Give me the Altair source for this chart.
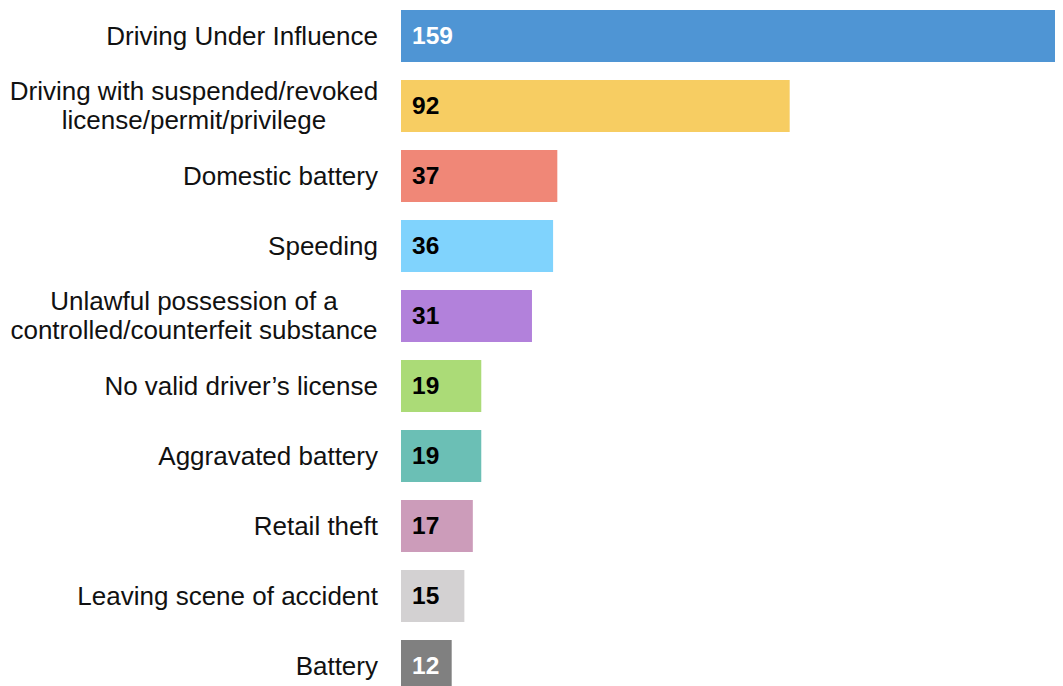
import altair as alt
import pandas as pd

categories = [
    "Driving Under Influence",
    "Driving with suspended/revoked|license/permit/privilege",
    "Domestic battery",
    "Speeding",
    "Unlawful possession of a|controlled/counterfeit substance",
    "No valid driver’s license",
    "Aggravated battery",
    "Retail theft",
    "Leaving scene of accident",
    "Battery",
]
values = [159, 92, 37, 36, 31, 19, 19, 17, 15, 12]
bar_colors = ["#4f95d4", "#f7cd62", "#f08777", "#80d3fd", "#b281db",
              "#abdb77", "#6bbfb5", "#cc9cba", "#d3d1d2", "#808080"]
value_text_colors = ["#ffffff", "#000000", "#000000", "#000000", "#000000",
                     "#000000", "#000000", "#000000", "#000000", "#ffffff"]

df = pd.DataFrame({
    "category": categories,
    "value": values,
    "color": bar_colors,
    "tcolor": value_text_colors,
})

FONT = "Liberation Sans"

y_enc = alt.Y(
    "category:N",
    sort=categories,
    axis=None,
    scale=alt.Scale(range=[-7, 693], paddingInner=18 / 70, paddingOuter=9 / 70),
)
x_scale = alt.Scale(domain=[0, 154.8], nice=False, zero=True)

base = alt.Chart(df)

bars = base.mark_bar().encode(
    x=alt.X("value:Q", scale=x_scale, axis=None),
    y=y_enc,
    color=alt.Color("color:N", scale=None),
)

value_text = base.mark_text(
    align="left", baseline="middle", dx=11, dy=1, font=FONT, fontSize=24.5,
    fontWeight="bold"
).encode(
    x=alt.datum(0, scale=x_scale),
    y=y_enc,
    text=alt.Text("value:Q"),
    color=alt.Color("tcolor:N", scale=None),
)

single_labels = base.transform_filter(
    "indexof(datum.category, '|') < 0"
).mark_text(
    align="right", baseline="middle", dy=1, font=FONT, fontSize=26, color="#111111"
).encode(
    x=alt.value(-23),
    y=y_enc,
    text="category:N",
)

multi_labels = base.transform_filter(
    "indexof(datum.category, '|') >= 0"
).transform_calculate(
    lines="split(datum.category, '|')"
).mark_text(
    align="center", baseline="middle", dy=-14, font=FONT, fontSize=26,
    lineHeight=29, color="#111111"
).encode(
    x=alt.value(-207),
    y=y_enc,
    text="lines:N",
)

chart = alt.layer(bars, value_text, single_labels, multi_labels).properties(
    width=654,
    height=678,
    autosize=alt.AutoSizeParams(type="none"),
    padding={"left": 393, "top": 0, "right": 0, "bottom": 0},
).configure_view(stroke=None)

chart.save("out.html", embed_options={"renderer": "svg", "actions": False})
